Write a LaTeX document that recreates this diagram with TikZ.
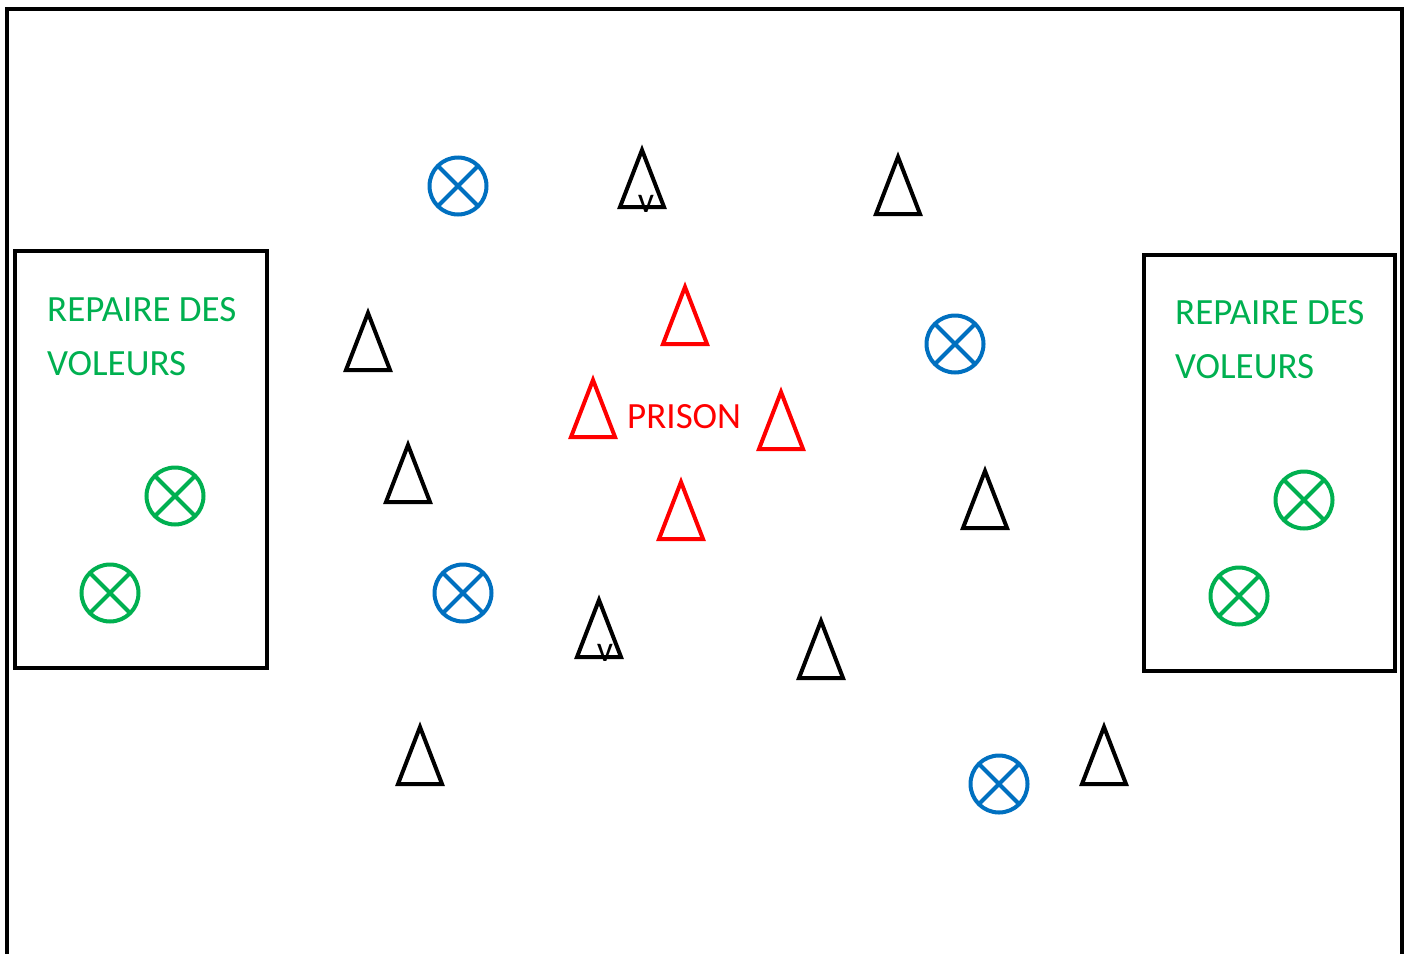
\documentclass[tikz,border=0pt]{standalone}
\usepackage{fontspec}
\setmainfont{Carlito}
\definecolor{grn}{RGB}{0,176,80}
\definecolor{blu}{RGB}{0,112,192}
\definecolor{rd}{RGB}{255,0,0}
\tikzset{
  frameline/.style={draw=black, line width=4pt},
  lbl/.style={font=\fontsize{37}{43}\selectfont, inner sep=0pt, anchor=base west},
  vmark/.style={font=\fontsize{36}{40}\selectfont, inner sep=0pt},
  tri/.pic={\draw[line width=4pt, draw=#1] (0,0) -- (-22,57) -- (22,57) -- cycle;},
  tri/.default=black,
  ring/.style={circle, draw=#1, line width=4pt, minimum size=57pt, inner sep=0pt, outer sep=0pt},
}
\newcommand{\xring}[3]{%
  \node[ring=#3] (#1) at (#2) {};
  \draw[line width=4pt, draw=#3] (#1.45) -- (#1.225) (#1.135) -- (#1.315);}
\begin{document}
\begin{tikzpicture}[x=1pt,y=-1pt]
\useasboundingbox (0,0) rectangle (1410,953);
% outer field
\draw[frameline] (7,970) -- (7,9) -- (1402,9) -- (1402,970);
% dens
\node[frameline, minimum width=252pt, minimum height=417pt, anchor=north west, inner sep=0pt, outer sep=0pt] (denL) at (15,251) {};
\node[frameline, minimum width=251pt, minimum height=416pt, anchor=north west, inner sep=0pt, outer sep=0pt] (denR) at (1144,255) {};
\node[lbl, text=grn] (tL1) at (47,321) {REPAIRE DES};
\node[lbl, text=grn] (tL2) at (47,375) {VOLEURS};
\node[lbl, text=grn] (tR1) at (1175,324) {REPAIRE DES};
\node[lbl, text=grn] (tR2) at (1175,378) {VOLEURS};
% black cones
\pic (b1) at (642,150) {tri};
\pic (b2) at (898,157) {tri};
\pic (b3) at (368,313) {tri};
\pic (b4) at (408,445) {tri};
\pic (b5) at (985,471) {tri};
\pic (b6) at (599,600) {tri};
\pic (b7) at (821,621) {tri};
\pic (b8) at (420,727) {tri};
\pic (b9) at (1104,727) {tri};
\node[vmark] (v1) at (646,204) {v};
\node[vmark] (v2) at (605,653) {v};
% prison cones
\pic (r1) at (685,287) {tri=rd};
\pic (r2) at (593,380) {tri=rd};
\pic (r3) at (781,392) {tri=rd};
\pic (r4) at (681,482) {tri=rd};
\node[lbl, text=rd] (prison) at (627,428) {PRISON};
% police (blue)
\xring{p1}{458,186}{blu}
\xring{p2}{955,344}{blu}
\xring{p3}{463,593}{blu}
\xring{p4}{999,784}{blu}
% thieves (green)
\xring{g1}{175,496}{grn}
\xring{g2}{110,593}{grn}
\xring{g3}{1304,500}{grn}
\xring{g4}{1239,596}{grn}
\end{tikzpicture}
\end{document}
